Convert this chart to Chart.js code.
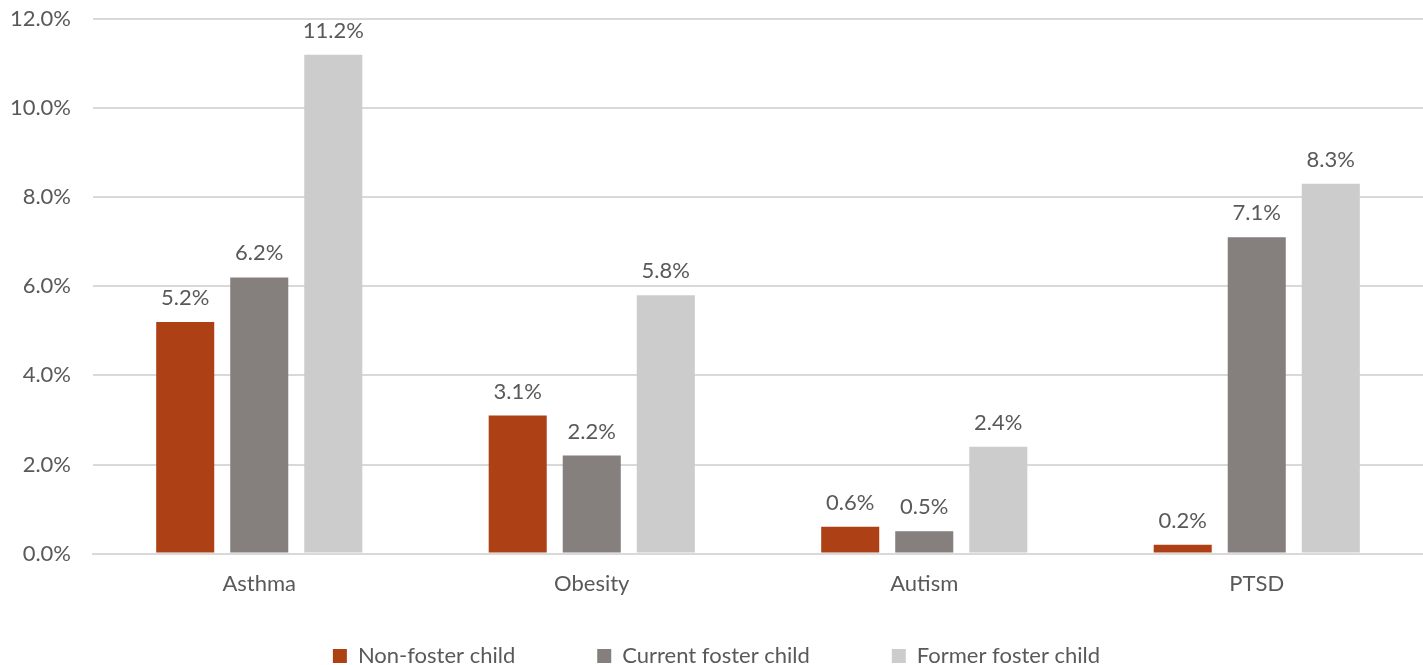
<!DOCTYPE html>
<html>
<head>
<meta charset="utf-8">
<script src="https://cdn.jsdelivr.net/npm/chart.js@4"></script>
<style>
  html, body { margin: 0; padding: 0; background: #fff; }
  #wrap { width: 1423px; height: 665px; }
</style>
</head>
<body>
<div id="wrap"><canvas id="bar"></canvas></div>
<script>
var categories = ["Asthma", "Obesity", "Autism", "PTSD"];
var seriesNames = ["Non-foster child", "Current foster child", "Former foster child"];
var nonFoster = [5.2, 3.1, 0.6, 0.2];
var currentFoster = [6.2, 2.2, 0.5, 7.1];
var formerFoster = [11.2, 5.8, 2.4, 8.3];
var colors = ["#AE4015", "#857F7E", "#CCCCCC"];

var bar = document.getElementById("bar");
var textColor = "#595959";
var fontSize = 22;
Chart.defaults.font.family = "Lato, 'Open Sans', sans-serif";
Chart.defaults.font.size = fontSize;
Chart.defaults.color = textColor;

// draw the value above every bar
var valueLabels = {
    id: "valueLabels",
    afterDatasetsDraw(chart) {
        var ctx = chart.ctx;
        ctx.save();
        ctx.font = fontSize + "px Lato, 'Open Sans', sans-serif";
        ctx.fillStyle = textColor;
        ctx.textAlign = "center";
        ctx.textBaseline = "middle";
        chart.data.datasets.forEach((ds, i) => {
            chart.getDatasetMeta(i).data.forEach((el, j) => {
                ctx.fillText(ds.data[j].toFixed(1) + "%", el.x, el.y - 24);
            });
        });
        ctx.restore();
    },
};

new Chart(bar, {
    type: "bar",
    data: {
        labels: categories,
        datasets: [
            { label: seriesNames[0], data: nonFoster, backgroundColor: colors[0] },
            { label: seriesNames[1], data: currentFoster, backgroundColor: colors[1] },
            { label: seriesNames[2], data: formerFoster, backgroundColor: colors[2] },
        ],
    },
    options: {
        responsive: true,
        maintainAspectRatio: false,
        animation: false,
        layout: {
            padding: { left: 10, right: 0, top: 19, bottom: -12 },
        },
        datasets: {
            bar: {
                categoryPercentage: 0.668,
                barPercentage: 0.784,
            },
        },
        scales: {
            x: {
                grid: { display: false },
                border: { color: "#D9D9D9", width: 2 },
                ticks: { padding: 9 },
                afterFit: (scale) => {
                    scale.height += 19;
                },
            },
            y: {
                min: 0,
                max: 12,
                ticks: {
                    stepSize: 2,
                    padding: 22,
                    callback: (v) => v.toFixed(1) + "%",
                },
                grid: { color: "#D9D9D9", lineWidth: 2, drawTicks: false },
                border: { display: false },
                afterFit: (scale) => {
                    scale.width = 83;
                    scale.paddingTop = 0;
                    scale.paddingBottom = 0;
                },
            },
        },
        plugins: {
            legend: {
                position: "bottom",
                labels: {
                    boxWidth: 14,
                    boxHeight: 14,
                    padding: 20,
                    generateLabels(chart) {
                        return chart.data.datasets.map((ds, i) => ({
                            text: ds.label + (i < 2 ? "           " : ""),
                            fillStyle: ds.backgroundColor,
                            strokeStyle: ds.backgroundColor,
                            lineWidth: 0,
                            datasetIndex: i,
                            fontColor: textColor,
                        }));
                    },
                },
            },
            title: { display: false },
            tooltip: { enabled: false },
        },
    },
    plugins: [valueLabels],
});
</script>
</body>
</html>
